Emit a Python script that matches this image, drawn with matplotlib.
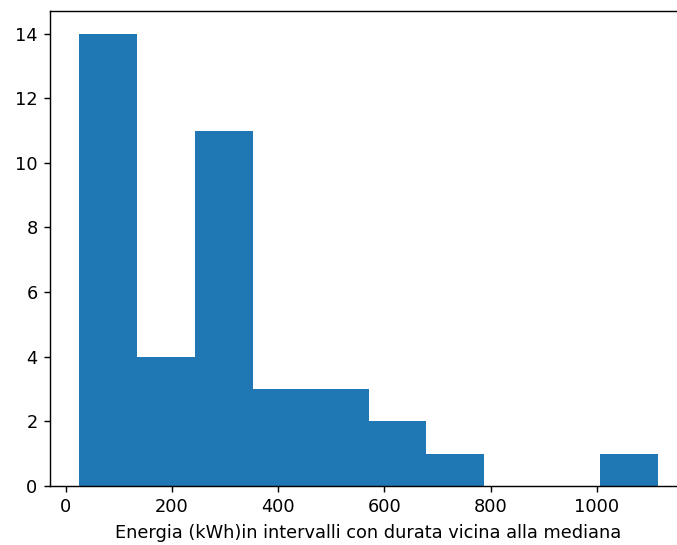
"""Histogram of energy in intervals with duration near the median."""
import numpy as np
import matplotlib
matplotlib.use('Agg')
import matplotlib.pyplot as plt

# bin edges (kWh) and counts
bin_edges = [25, 134, 243, 352, 461, 570, 679, 788, 897, 1006, 1115]
counts = [14, 4, 11, 3, 3, 2, 1, 0, 0, 1]
xlabel = 'Energia (kWh)in intervalli con durata vicina alla mediana'

W, H, DPI = 677, 545, 128
fig = plt.figure(figsize=(W / DPI, H / DPI), dpi=DPI)
# axes runs past the right edge, as in the (cropped) reference
ax = fig.add_axes([50 / W, (H - 486) / H, (687 - 50) / W, (486 - 11) / H])

ax.hist(bin_edges[:-1], bins=bin_edges, weights=counts, color='#1f77b4')
ax.set_xlabel(xlabel)

fig.savefig('out.png', dpi=DPI)
print('Wrote out.png')
